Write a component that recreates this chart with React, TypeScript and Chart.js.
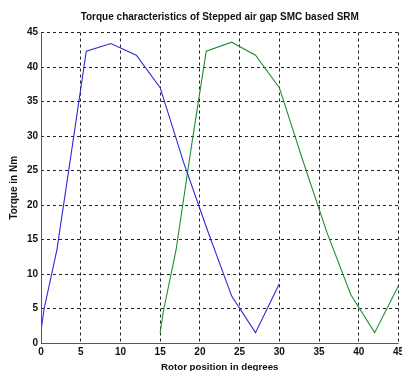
import React, { useEffect, useRef } from "react";
import { Chart, registerables } from "chart.js";

Chart.register(...registerables);

const chartTitle = "Torque characteristics of Stepped air gap SMC based SRM";
const xAxisTitle = "Rotor position in degrees";
const yAxisTitle = "Torque in Nm";

const blueAngle = [0, 0.4, 2, 4, 5.7, 8.8, 12, 15, 18, 21, 24, 27, 30];
const blueTorque = [1.7, 5, 13.5, 29, 42.3, 43.4, 41.7, 37, 26, 16.2, 6.8, 1.5, 8.6];

const greenAngle = [15, 15.4, 17, 19, 20.8, 24, 27, 30, 33, 36, 39, 42, 45];
const greenTorque = [1.5, 4.6, 13.5, 29, 42.3, 43.6, 41.7, 37, 26.3, 16, 7, 1.5, 8.3];

const xTicks = [0, 5, 10, 15, 20, 25, 30, 35, 40, 45];
const yTicks = [0, 5, 10, 15, 20, 25, 30, 35, 40, 45];

const FONT = "'Liberation Sans', Arial, sans-serif";

const framePlugin = {
  id: "frame",
  afterDraw(chart: any) {
    const { ctx, chartArea } = chart;
    ctx.save();
    ctx.strokeStyle = "#555";
    ctx.lineWidth = 1;
    ctx.beginPath();
    ctx.moveTo(Math.round(chartArea.left) + 0.5, chartArea.top);
    ctx.lineTo(Math.round(chartArea.left) + 0.5, Math.round(chartArea.bottom) + 0.5);
    ctx.lineTo(chartArea.right, Math.round(chartArea.bottom) + 0.5);
    ctx.stroke();
    ctx.fillStyle = "#111";
    ctx.font = `bold 10px ${FONT}`;
    ctx.textAlign = "center";
    ctx.textBaseline = "middle";
    ctx.fillText(chartTitle, (chartArea.left + chartArea.right) / 2, 17);
    ctx.restore();
  },
};

export default function App() {
  const ref = useRef<HTMLCanvasElement | null>(null);
  useEffect(() => {
    document.body.style.margin = "0";
    const canvas = ref.current!;
    const toPts = (xs: number[], ys: number[]) => xs.map((x, i) => ({ x, y: ys[i] }));
    const chart = new Chart(canvas, {
      type: "line",
      data: {
        datasets: [
          {
            data: toPts(blueAngle, blueTorque),
            borderColor: "#2a2ad8",
            borderWidth: 1.1,
            pointRadius: 0,
            tension: 0,
            fill: false,
          },
          {
            data: toPts(greenAngle, greenTorque),
            borderColor: "#1f8f2f",
            borderWidth: 1.1,
            pointRadius: 0,
            tension: 0,
            fill: false,
          },
        ],
      },
      options: {
        animation: false,
        responsive: false,
        events: [],
        layout: { padding: { top: 32.5, right: 3.5, bottom: 0, left: 0 } },
        plugins: {
          legend: { display: false },
          tooltip: { enabled: false },
          title: { display: false },
        },
        scales: {
          x: {
            type: "linear",
            min: 0,
            max: 45,
            afterBuildTicks: (s: any) => {
              s.ticks = xTicks.map((v) => ({ value: v }));
            },
            afterFit: (s: any) => {
              s.height = 28;
              s.paddingLeft = 0;
              s.paddingRight = 0;
            },
            ticks: {
              color: "#111",
              font: { family: FONT, size: 10, weight: "bold" },
              padding: 3,
              maxRotation: 0,
              autoSkip: false,
            },
            grid: { color: "#222", lineWidth: 1, drawTicks: false },
            border: { display: false, dash: [3, 3] },
            title: {
              display: true,
              text: xAxisTitle,
              color: "#111",
              font: { family: FONT, size: 9.7, weight: "bold", lineHeight: 1.2 },
              padding: { top: 0, bottom: -2.5 },
            },
          },
          y: {
            type: "linear",
            min: 0,
            max: 45,
            afterBuildTicks: (s: any) => {
              s.ticks = yTicks.map((v) => ({ value: v }));
            },
            afterFit: (s: any) => {
              s.width = 41;
              s.paddingTop = 0;
              s.paddingBottom = 0;
            },
            ticks: {
              color: "#111",
              font: { family: FONT, size: 10, weight: "bold" },
              padding: 3,
              autoSkip: false,
            },
            grid: { color: "#222", lineWidth: 1, drawTicks: false },
            border: { display: false, dash: [3, 3] },
            title: {
              display: true,
              text: yAxisTitle,
              color: "#111",
              font: { family: FONT, size: 10, weight: "bold", lineHeight: 1.2 },
              padding: { top: 8, bottom: 0 },
            },
          },
        },
      },
      plugins: [framePlugin],
    });
    return () => chart.destroy();
  }, []);
  return (
    <div style={{ position: "absolute", left: 0, top: 0, width: 402, height: 371, background: "#fff" }}>
      <canvas ref={ref} width={402} height={371} style={{ display: "block" }} />
    </div>
  );
}
